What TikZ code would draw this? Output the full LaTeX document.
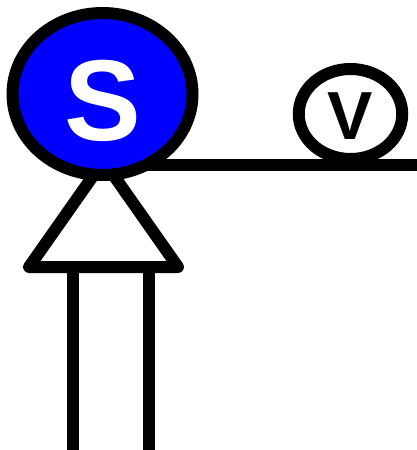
\documentclass[tikz,border=0pt]{standalone}
\usepackage{fontspec}
\setmainfont{Liberation Sans}
\usetikzlibrary{shapes.geometric}
\definecolor{sblue}{RGB}{0,0,255}
\tikzset{
  px/.style={x=1pt,y=-1pt},
  stroke/.style={line width=12pt,draw=black},
  sball/.style={ellipse,draw=black,line width=12pt,fill=sblue,minimum width=180pt,minimum height=162pt,inner sep=0pt},
  vball/.style={ellipse,draw=black,line width=12pt,fill=white,minimum width=103.5pt,minimum height=90pt,inner sep=0pt},
  slabel/.style={text=white,inner sep=0pt,font=\bfseries\fontsize{115}{115}\selectfont},
  vlabel/.style={text=black,inner sep=0pt,font=\bfseries\fontsize{68}{68}\selectfont},
}
\begin{document}
\begin{tikzpicture}[px]
\useasboundingbox (0,0) rectangle (417,450);
\coordinate (apex) at (103.5,161);
\coordinate (tl) at (29,267);
\coordinate (tr) at (178,267);
\coordinate (legla) at (73.3,267);
\coordinate (leglb) at (73.3,450);
\coordinate (legra) at (148.5,267);
\coordinate (legrb) at (148.5,450);
\coordinate (wirea) at (103,164.5);
\coordinate (wireb) at (417,164.5);
\draw[stroke] (legla) -- (leglb);
\draw[stroke] (legra) -- (legrb);
\draw[stroke,line join=round,fill=white] (apex) -- (tl) -- (tr) -- cycle;
\node[vball] (v) at (350.5,114) {};
\draw[stroke] (wirea) -- (wireb);
\node[sball] (s) at (102.5,94) {};
\node[slabel,anchor=base] (st) at (102.5,140.5) {S};
\node[vlabel,anchor=base] (vt) at (350.5,139) {V};
\end{tikzpicture}
\end{document}
